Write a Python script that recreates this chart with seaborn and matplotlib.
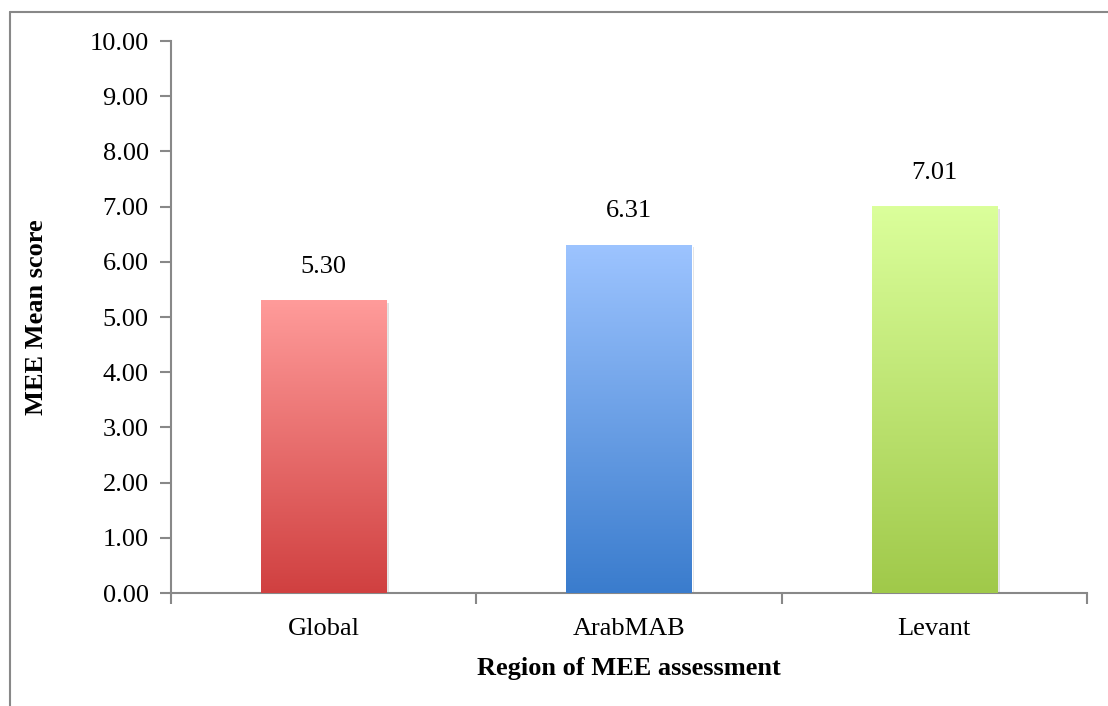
import numpy as np
import pandas as pd
import matplotlib
matplotlib.use("Agg")
import matplotlib.pyplot as plt
import seaborn as sns
from matplotlib.colors import LinearSegmentedColormap
from matplotlib.lines import Line2D
import matplotlib.patheffects as pe

regioes = ["Global", "ArabMAB", "Levant"]
medias = [5.30, 6.31, 7.01]
cor_topo = ["#ff9b9a", "#9dc4ff", "#dbff9b"]
cor_base = ["#d04040", "#3a7ccd", "#a0c94a"]

sns.set_theme(style="white")
plt.rcParams["font.family"] = ["Liberation Serif", "DejaVu Serif"]
plt.rcParams["text.color"] = "black"
plt.rcParams["xtick.color"] = "black"
plt.rcParams["ytick.color"] = "black"
plt.rcParams["axes.labelcolor"] = "black"

df = pd.DataFrame({"regiao": regioes, "media": medias})

fig = plt.figure(figsize=(11.08, 7.06), dpi=100)
ax = fig.add_axes([0.1543, 0.160, 0.981 - 0.1543, 0.9419 - 0.160])

sns.barplot(data=df, x="regiao", y="media", hue="regiao", palette=cor_base,
            width=0.41, legend=False, ax=ax, zorder=2)

# gradiente vertical em cada barra
grad = np.linspace(0, 1, 256).reshape(-1, 1)
for barra, c0, c1 in zip(ax.patches, cor_base, cor_topo):
    x0, y0 = barra.get_x(), barra.get_y()
    w, h = barra.get_width(), barra.get_height()
    barra.set_path_effects([pe.SimplePatchShadow(offset=(2, -2), shadow_rgbFace="#aaaaaa", alpha=0.35), pe.Normal()])
    cmap = LinearSegmentedColormap.from_list("g", [c0, c1])
    img = ax.imshow(grad, extent=[x0, x0 + w, y0, y0 + h], origin="lower",
                    cmap=cmap, aspect="auto", zorder=3)
    img.set_clip_path(barra)

for i, v in enumerate(medias):
    ax.annotate(f"{v:.2f}", (i, v), xytext=(0, 24), textcoords="offset points",
                ha="center", va="center", fontsize=19)

ax.set_xlim(-0.5, 2.5)
ax.set_ylim(0, 10)
ax.set_yticks(np.arange(0, 11, 1))
ax.set_yticklabels([f"{t:.2f}" for t in np.arange(0, 11, 1)], fontsize=19)
ax.set_xticks(range(len(regioes)))
ax.set_xticklabels(regioes, fontsize=19)
ax.set_xticks([-0.5, 0.5, 1.5, 2.5], minor=True)
ax.tick_params(axis="x", which="major", length=0, pad=18)
ax.tick_params(axis="x", which="minor", length=8, color="#888888", width=1.5, bottom=True)
ax.tick_params(axis="y", length=8, color="#888888", labelcolor="black", width=1.5,
               direction="out", pad=8, left=True)

for lado in ["top", "right"]:
    ax.spines[lado].set_visible(False)
for lado in ["left", "bottom"]:
    ax.spines[lado].set_color("#888888")
    ax.spines[lado].set_linewidth(1.5)

ax.set_xlabel("Region of MEE assessment", fontsize=19, fontweight="bold", labelpad=12)
ax.set_ylabel("MEE Mean score", fontsize=19, fontweight="bold", labelpad=30)

# moldura externa
fig.add_artist(Line2D([10 / 1108, 1.0], [1 - 12 / 706, 1 - 12 / 706], transform=fig.transFigure,
                      color="#888888", lw=1.5))
fig.add_artist(Line2D([10 / 1108, 10 / 1108], [0.0, 1 - 12 / 706], transform=fig.transFigure,
                      color="#888888", lw=1.5))

plt.savefig("out.png", dpi=100)
plt.close()
